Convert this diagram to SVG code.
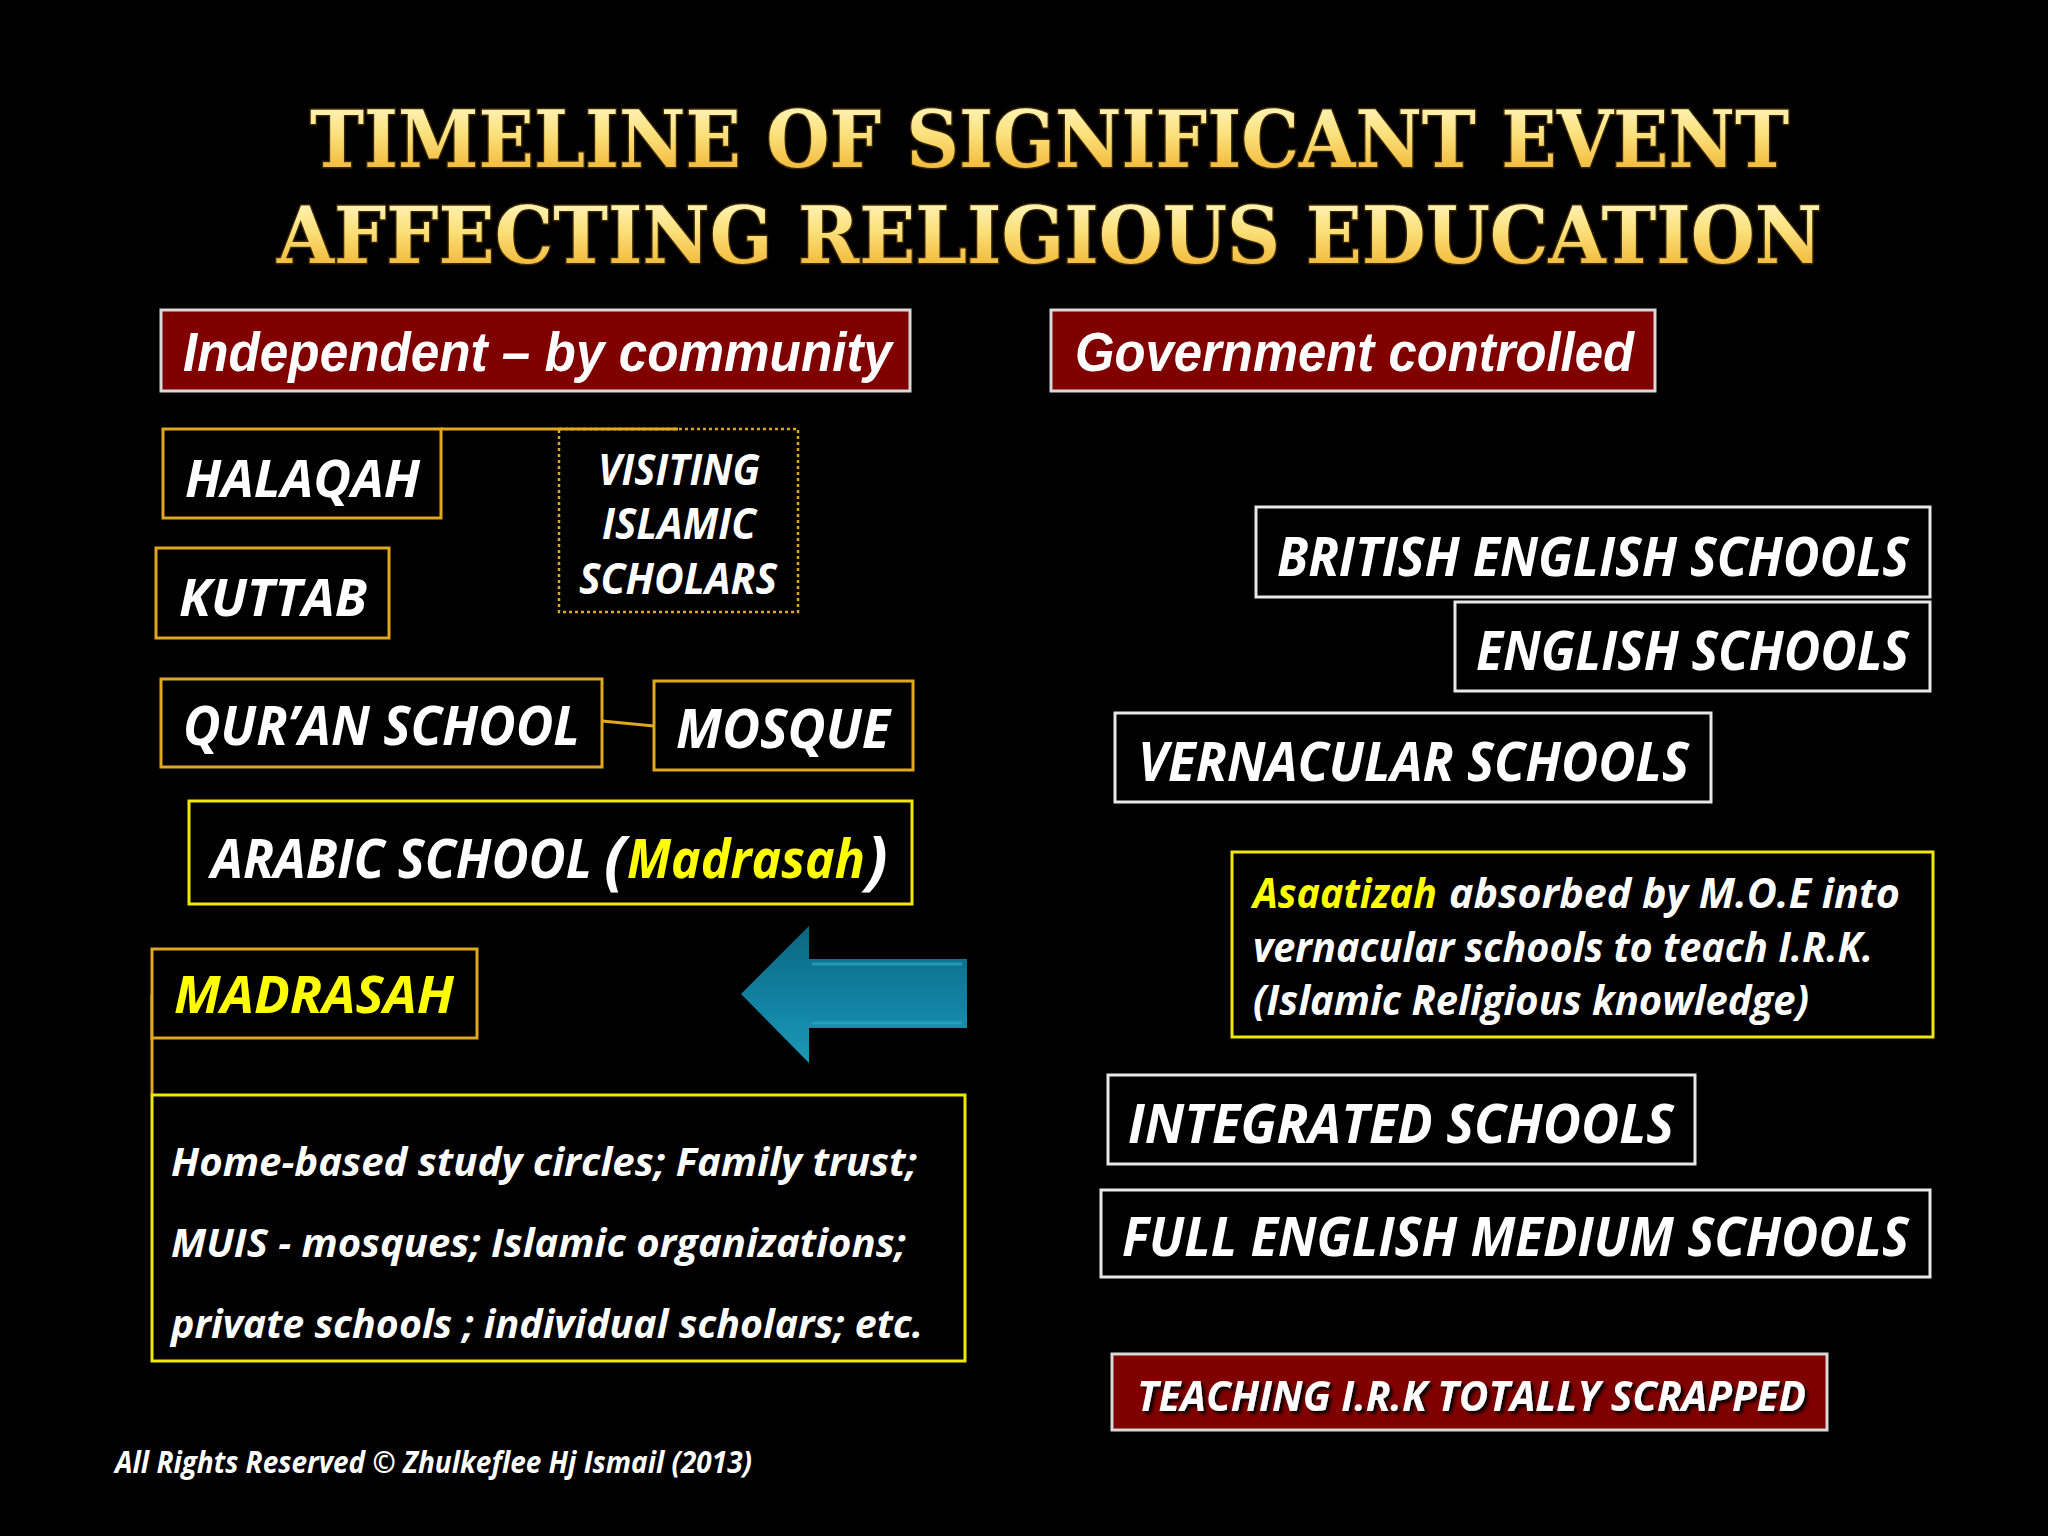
<svg xmlns="http://www.w3.org/2000/svg" width="2048" height="1536" viewBox="0 0 2048 1536">
<defs>
<linearGradient id="gold" x1="0" y1="0" x2="0" y2="1">
<stop offset="0" stop-color="#fffbd2"/>
<stop offset="0.45" stop-color="#fbe07a"/>
<stop offset="1" stop-color="#eea81e"/>
</linearGradient>
<linearGradient id="teal" x1="0" y1="0" x2="0" y2="1">
<stop offset="0" stop-color="#0c6680"/>
<stop offset="0.5" stop-color="#10809e"/>
<stop offset="1" stop-color="#1e98b8"/>
</linearGradient>
<filter id="shadow" x="-5%" y="-20%" width="110%" height="150%">
<feDropShadow dx="3" dy="3" stdDeviation="1.5" flood-color="#000000" flood-opacity="0.9"/>
</filter>
</defs>
<style>
.title{font-family:"DejaVu Serif","Liberation Serif",serif;font-weight:bold;font-size:78px;fill:url(#gold);stroke:#3a2600;stroke-width:3;paint-order:stroke}
.hdr{fill:#800000;stroke:#d8d8d8;stroke-width:3}
.hdrt{font-family:"Liberation Sans",Arial,sans-serif;font-weight:bold;font-style:italic;font-size:55px;fill:#ffffff}
.gold{fill:#000000;stroke:#e0a81c;stroke-width:3}
.yel{fill:#000000;stroke:#f0e800;stroke-width:3}
.wht{fill:#000000;stroke:#e8e8e8;stroke-width:3}
.t{font-family:"Open Sans","Noto Sans",sans-serif;font-weight:bold;font-style:italic;fill:#ffffff}
.y{fill:#ffff00}
.conn{stroke:#e0a81c;stroke-width:3;fill:none}
</style>
<rect x="0" y="0" width="2048" height="1536" fill="#000000"/>

<g id="title">
<text class="title" x="310" y="167" textLength="1479" lengthAdjust="spacingAndGlyphs">TIMELINE OF SIGNIFICANT EVENT</text>
<text class="title" x="277" y="263" textLength="1545" lengthAdjust="spacingAndGlyphs">AFFECTING  RELIGIOUS  EDUCATION</text>
</g>

<g id="connectors">
<line class="conn" x1="441" y1="429" x2="678" y2="429"/>
<line class="conn" x1="602" y1="721" x2="654" y2="726"/>
<line class="conn" x1="152" y1="995" x2="152" y2="1094"/>
</g>

<g id="hdr-independent">
<rect class="hdr" x="161" y="310" width="749" height="81"/>
<text class="hdrt" x="183" y="371" textLength="709" lengthAdjust="spacingAndGlyphs">Independent – by community</text>
</g>
<g id="hdr-government">
<rect class="hdr" x="1051" y="310" width="604" height="81"/>
<text class="hdrt" x="1075" y="371" textLength="559" lengthAdjust="spacingAndGlyphs">Government controlled</text>
</g>

<g id="halaqah">
<rect class="gold" x="163" y="429" width="278" height="89"/>
<text class="t" x="185" y="497" font-size="52" textLength="235" lengthAdjust="spacingAndGlyphs">HALAQAH</text>
</g>
<g id="kuttab">
<rect class="gold" x="156" y="548" width="233" height="90"/>
<text class="t" x="179" y="616" font-size="52" textLength="188" lengthAdjust="spacingAndGlyphs">KUTTAB</text>
</g>
<g id="visiting">
<rect x="559" y="429" width="239" height="183" fill="none" stroke="#e0a81c" stroke-width="2.5" stroke-dasharray="3 3"/>
<text class="t" x="598" y="485" font-size="43" textLength="162" lengthAdjust="spacingAndGlyphs">VISITING</text>
<text class="t" x="602" y="539" font-size="43" textLength="154" lengthAdjust="spacingAndGlyphs">ISLAMIC</text>
<text class="t" x="579" y="594" font-size="43" textLength="198" lengthAdjust="spacingAndGlyphs">SCHOLARS</text>
</g>
<g id="quran">
<rect class="gold" x="161" y="679" width="441" height="88"/>
<text class="t" x="183" y="745" font-size="53" textLength="397" lengthAdjust="spacingAndGlyphs">QUR’AN SCHOOL</text>
</g>
<g id="mosque">
<rect class="gold" x="654" y="681" width="259" height="89"/>
<text class="t" x="676" y="748" font-size="53" textLength="214" lengthAdjust="spacingAndGlyphs">MOSQUE</text>
</g>
<g id="arabic">
<rect class="yel" x="189" y="801" width="723" height="103"/>
<text class="t" y="878" font-size="54"><tspan x="211" textLength="381" lengthAdjust="spacingAndGlyphs">ARABIC SCHOOL</tspan><tspan x="604" y="882" font-size="64">(</tspan><tspan class="y" x="627" y="878" textLength="238" lengthAdjust="spacingAndGlyphs">Madrasah</tspan><tspan x="866" y="882" font-size="64">)</tspan></text>
</g>
<g id="madrasah">
<rect class="gold" x="152" y="949" width="325" height="89"/>
<text class="t y" x="174" y="1013" font-size="52" textLength="280" lengthAdjust="spacingAndGlyphs">MADRASAH</text>
</g>
<g id="arrow">
<path d="M741,994 L809,926 L809,959 L967,959 L967,1028 L809,1028 L809,1063 Z" fill="url(#teal)"/>
<path d="M812,964 L962,964 M812,1023 L962,1023" stroke="#2aa6c6" stroke-width="3" fill="none" opacity="0.7"/>
</g>
<g id="providers">
<rect class="yel" x="152" y="1095" width="813" height="266"/>
<text class="t" x="171" y="1176" font-size="39" textLength="746" lengthAdjust="spacingAndGlyphs">Home-based study  circles; Family trust;</text>
<text class="t" x="171" y="1257" font-size="39" textLength="735" lengthAdjust="spacingAndGlyphs">MUIS - mosques; Islamic organizations;</text>
<text class="t" x="171" y="1338" font-size="39" textLength="752" lengthAdjust="spacingAndGlyphs">private schools ; individual scholars; etc.</text>
</g>

<g id="british">
<rect class="wht" x="1256" y="507" width="674" height="90"/>
<text class="t" x="1277" y="576" font-size="54" textLength="632" lengthAdjust="spacingAndGlyphs">BRITISH ENGLISH SCHOOLS</text>
</g>
<g id="english">
<rect class="wht" x="1455" y="602" width="475" height="89"/>
<text class="t" x="1476" y="670" font-size="54" textLength="433" lengthAdjust="spacingAndGlyphs">ENGLISH SCHOOLS</text>
</g>
<g id="vernacular">
<rect class="wht" x="1115" y="713" width="596" height="89"/>
<text class="t" x="1138" y="781" font-size="54" textLength="551" lengthAdjust="spacingAndGlyphs">VERNACULAR SCHOOLS</text>
</g>
<g id="asaatizah">
<rect class="yel" x="1232" y="852" width="701" height="185"/>
<text class="t" y="908" font-size="42"><tspan class="y" x="1253" textLength="184" lengthAdjust="spacingAndGlyphs">Asaatizah</tspan><tspan x="1449" textLength="451" lengthAdjust="spacingAndGlyphs">absorbed by M.O.E  into</tspan></text>
<text class="t" x="1253" y="962" font-size="42" textLength="620" lengthAdjust="spacingAndGlyphs">vernacular schools to teach I.R.K.</text>
<text class="t" x="1253" y="1015" font-size="42" textLength="556" lengthAdjust="spacingAndGlyphs">(Islamic Religious knowledge)</text>
</g>
<g id="integrated">
<rect class="wht" x="1108" y="1075" width="587" height="89"/>
<text class="t" x="1128" y="1143" font-size="54" textLength="546" lengthAdjust="spacingAndGlyphs">INTEGRATED  SCHOOLS</text>
</g>
<g id="fullenglish">
<rect class="wht" x="1101" y="1190" width="829" height="87"/>
<text class="t" x="1122" y="1256" font-size="54" textLength="787" lengthAdjust="spacingAndGlyphs">FULL ENGLISH MEDIUM SCHOOLS</text>
</g>
<g id="scrapped">
<rect class="hdr" x="1112" y="1354" width="715" height="76"/>
<text class="t" x="1137" y="1411" font-size="41" textLength="669" lengthAdjust="spacingAndGlyphs" filter="url(#shadow)">TEACHING I.R.K TOTALLY SCRAPPED</text>
</g>

<g id="footer">
<text class="t" x="115" y="1473" font-size="31" textLength="637" lengthAdjust="spacingAndGlyphs">All Rights Reserved © Zhulkeflee Hj Ismail (2013)</text>
</g>
</svg>
